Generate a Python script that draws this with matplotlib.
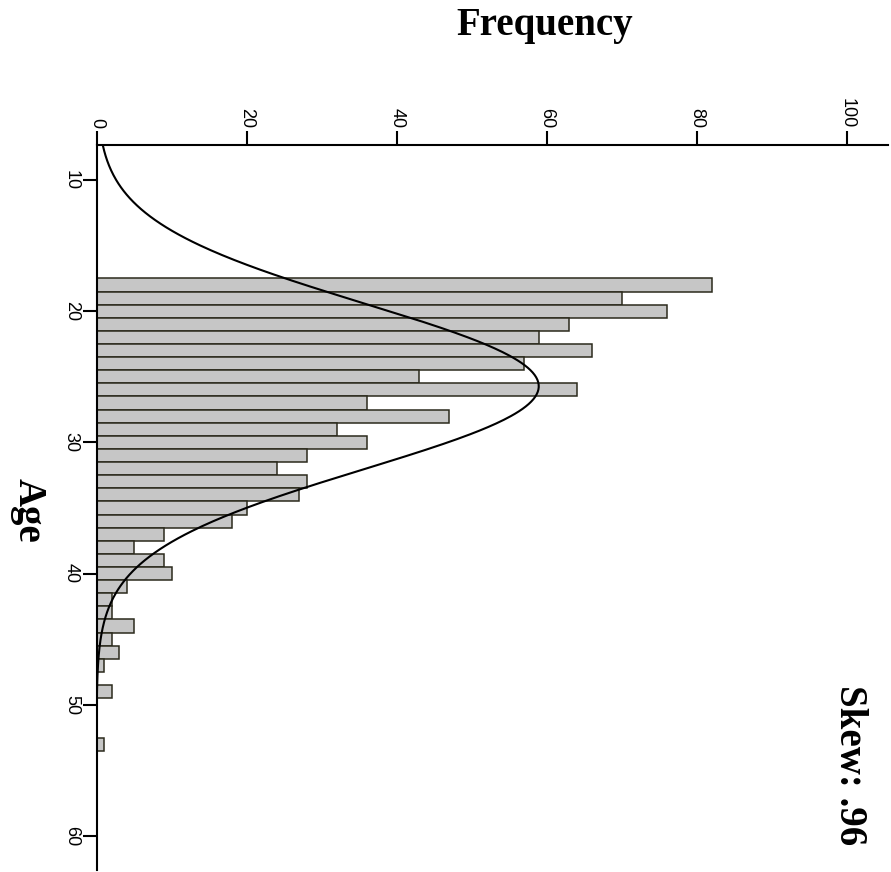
import numpy as np
import matplotlib
matplotlib.use("Agg")
import matplotlib.pyplot as plt

# Histogram data (Age bins of width 1, centred on integer ages)
ages = [18, 19, 20, 21, 22, 23, 24, 25, 26, 27, 28, 29, 30, 31, 32, 33, 34, 35,
        36, 37, 38, 39, 40, 41, 42, 43, 44, 45, 46, 47, 48, 49, 50, 51, 52, 53]
counts = [82, 70, 76, 63, 59, 66, 57, 43, 64, 36, 47, 32, 36, 28, 24, 28, 27, 20,
          18, 9, 5, 9, 10, 4, 2, 2, 5, 2, 3, 1, 0, 2, 0, 0, 0, 1]
freq_ticks = [0, 20, 40, 60, 80, 100]
age_ticks = [10, 20, 30, 40, 50, 60]
skew_label = "Skew: .96"

ages_a = np.array(ages, dtype=float)
counts_a = np.array(counts, dtype=float)
N = counts_a.sum()
mean = (ages_a * counts_a).sum() / N
sd = np.sqrt(((ages_a - mean) ** 2 * counts_a).sum() / (N - 1))

W, H = 891, 872
fig = plt.figure(figsize=(W / 100, H / 100), dpi=100)
ax = fig.add_axes([96.5 / W, 1 - 870 / H, (888.3 - 96.5) / W, (870 - 145) / H])

ax.barh(ages, counts, height=1.0, align="center", color="#c6c6c6",
        edgecolor="#2b2a1c", linewidth=1.1, zorder=2)

ylo, yhi = 7.33, 62.6
yy = np.linspace(ylo, yhi, 600)
curve = N * 1.0 * np.exp(-0.5 * ((yy - mean) / sd) ** 2) / (sd * np.sqrt(2 * np.pi))
ax.plot(curve, yy, color="black", lw=1.5, zorder=3)

ax.set_xlim(0, 105.5)
ax.set_ylim(yhi, ylo)

for s in ["right", "bottom"]:
    ax.spines[s].set_visible(False)
for s in ["left", "top"]:
    ax.spines[s].set_linewidth(1.5)
    ax.spines[s].set_color("black")

ax.xaxis.tick_top()
ax.set_xticks(freq_ticks)
ax.set_yticks(age_ticks)
ax.tick_params(axis="x", direction="out", length=10, width=1.5, pad=2,
               labelsize=13, labelrotation=-90)
ax.tick_params(axis="y", direction="out", length=10, width=1.5, pad=2,
               labelsize=13, labelrotation=-90)
for lab in ax.get_xticklabels() + ax.get_yticklabels():
    lab.set_family("Liberation Sans")
for lab in ax.get_yticklabels():
    lab.set_va("center")
for lab in ax.get_xticklabels():
    lab.set_ha("center")

serif = "Liberation Serif"
fig.text(545 / W, 1 - 25 / H, "Frequency", ha="center", va="center",
         fontsize=28, fontweight="bold", family=serif)
fig.text(28 / W, 1 - 510 / H, "Age", ha="center", va="center", rotation=-90,
         fontsize=28, fontweight="bold", family=serif)
fig.text(850 / W, 1 - 765 / H, skew_label, ha="center", va="center", rotation=-90,
         fontsize=28, fontweight="bold", family=serif)

fig.savefig("out.png", dpi=100)
